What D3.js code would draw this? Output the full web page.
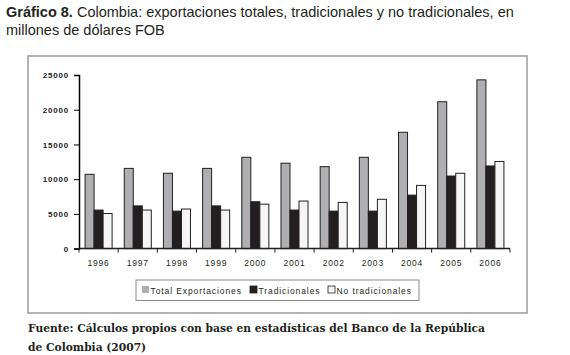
<!DOCTYPE html>
<html>
<head>
<meta charset="utf-8">
<script src="https://d3js.org/d3.v7.min.js"></script>
<style>
  body { margin: 0; background: #fff; }
</style>
</head>
<body>
<div id="chart"></div>
<script>

// data
var years = ["1996","1997","1998","1999","2000","2001","2002","2003","2004","2005","2006"];
var total = [10700, 11550, 10850, 11550, 13150, 12300, 11800, 13150, 16750, 21150, 24300];
var tradicionales = [5550, 6150, 5400, 6150, 6750, 5550, 5400, 5400, 7700, 10450, 11900];
var noTradicionales = [5050, 5550, 5700, 5550, 6400, 6850, 6650, 7100, 9100, 10850, 12550];
var yTicks = [0, 5000, 10000, 15000, 20000, 25000];
var seriesNames = ["Total Exportaciones", "Tradicionales", "No tradicionales"];
var seriesColors = ["#afafb3", "#231f20", "#f5f5f5"];

var W = 570, H = 355;

var svg = d3.select("#chart").append("svg")
  .attr("width", W)
  .attr("height", H)
  .style("font-family", "Liberation Sans, Arial, sans-serif");

// title
var title = svg.append("text")
  .attr("x", 6)
  .attr("y", 17)
  .style("font-size", "14.5px")
  .attr("fill", "#231f20");
title.append("tspan").attr("font-weight", "bold").text("Gráfico 8.");
title.append("tspan").text(" Colombia: exportaciones totales, tradicionales y no tradicionales, en");
svg.append("text")
  .attr("x", 6)
  .attr("y", 35)
  .style("font-size", "14.5px")
  .attr("fill", "#231f20")
  .text("millones de dólares FOB");

// outer frame of the chart area
svg.append("rect")
  .attr("x", 28)
  .attr("y", 56)
  .attr("width", 499)
  .attr("height", 257)
  .attr("fill", "none")
  .attr("stroke", "#9a9a9a")
  .attr("stroke-width", 1.5);

var margin = {left: 79, top: 75, right: 510, bottom: 248.6};

var x = d3.scaleBand()
  .domain(years)
  .range([margin.left, margin.right])
  .paddingInner(0.31)
  .paddingOuter(0.155);

var y = d3.scaleLinear()
  .domain([0, 25000])
  .range([margin.bottom, margin.top]);

var xSub = d3.scaleBand()
  .domain(d3.range(3))
  .range([0, x.bandwidth()]);

var values = [total, tradicionales, noTradicionales];

// bars
var g = svg.append("g");
years.forEach(function(yr, i) {
  values.forEach(function(arr, k) {
    g.append("rect")
      .attr("x", x(yr) + xSub(k))
      .attr("y", y(arr[i]))
      .attr("width", xSub.bandwidth())
      .attr("height", y(0) - y(arr[i]))
      .attr("fill", seriesColors[k])
      .attr("stroke", "#231f20")
      .attr("stroke-width", 1);
  });
});

// y axis
var yAxis = svg.append("g")
  .attr("transform", "translate(" + margin.left + ",0)")
  .call(d3.axisLeft(y).tickValues(yTicks).tickSize(5).tickPadding(5).tickFormat(d3.format("d")));
yAxis.selectAll("text")
  .style("font-size", "8px")
  .style("font-weight", "bold")
  .style("letter-spacing", "0.8px")
  .attr("fill", "#231f20");
yAxis.select(".domain").attr("stroke-width", 1.5);

// x axis with ticks between the groups
var xAxis = svg.append("g")
  .attr("transform", "translate(0," + margin.bottom + ")");
xAxis.append("line")
  .attr("x1", margin.left).attr("x2", margin.right)
  .attr("stroke", "#231f20").attr("stroke-width", 1.5);
var step = x.step();
d3.range(years.length + 1).forEach(function(i) {
  xAxis.append("line")
    .attr("x1", margin.left + i * step)
    .attr("x2", margin.left + i * step)
    .attr("y1", 0).attr("y2", 4)
    .attr("stroke", "#231f20").attr("stroke-width", 1);
});
xAxis.selectAll("text.yr")
  .data(years)
  .enter().append("text")
    .attr("class", "yr")
    .attr("x", function(d) { return x(d) + x.bandwidth() / 2; })
    .attr("y", 17)
    .attr("text-anchor", "middle")
    .style("font-size", "8.5px")
    .style("letter-spacing", "0.8px")
    .attr("fill", "#231f20")
    .text(function(d) { return d; });

// legend
var legend = svg.append("g");
legend.append("rect")
  .attr("x", 136).attr("y", 280)
  .attr("width", 283).attr("height", 20.5)
  .attr("fill", "#fff")
  .attr("stroke", "#8a8a8a")
  .attr("stroke-width", 1);
var legendX = [142, 250, 328];
seriesNames.forEach(function(name, k) {
  legend.append("rect")
    .attr("x", legendX[k]).attr("y", 286)
    .attr("width", 7).attr("height", 7)
    .attr("fill", seriesColors[k])
    .attr("stroke", k == 0 ? "none" : "#231f20")
    .attr("stroke-width", 0.8);
  legend.append("text")
    .attr("x", legendX[k] + 8.5)
    .attr("y", 293.5)
    .style("font-size", "8.5px")
    .style("letter-spacing", "0.9px")
    .attr("fill", "#231f20")
    .text(name);
});

// source note
svg.append("text")
  .attr("x", 28).attr("y", 332)
  .style("font-family", "DejaVu Serif, Liberation Serif, serif")
  .style("font-size", "10.7px")
  .style("font-weight", "bold")
  .attr("fill", "#231f20")
  .text("Fuente: Cálculos propios con base en estadísticas del Banco de la República");
svg.append("text")
  .attr("x", 28).attr("y", 351)
  .style("font-family", "DejaVu Serif, Liberation Serif, serif")
  .style("font-size", "10.7px")
  .style("font-weight", "bold")
  .attr("fill", "#231f20")
  .text("de Colombia (2007)");

</script>
</body>
</html>
